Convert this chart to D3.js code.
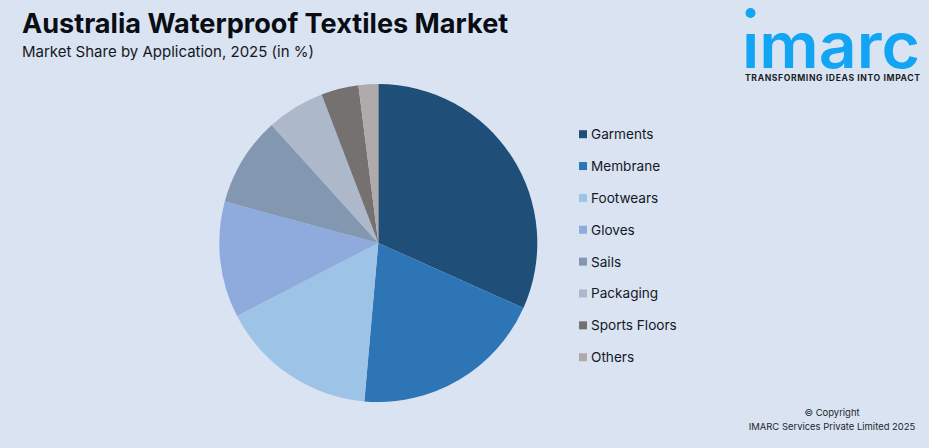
<!DOCTYPE html>
<html><head><meta charset="utf-8">
<script src="https://cdn.jsdelivr.net/npm/d3@7/dist/d3.min.js"></script>
<style>html,body{margin:0;padding:0;background:#d9e3f2}svg{display:block}text{font-family:Inter,"Noto Sans",sans-serif}</style>
</head><body><svg id="c" width="929" height="448"></svg>
<script>
const categories=["Garments","Membrane","Footwears","Gloves","Sails","Packaging","Sports Floors","Others"];
const shares=[31.7,19.7,16,11.8,9.1,5.9,3.8,2];
const colors=["#1f4e79","#2e75b6","#9dc3e6","#8faadc","#8497b0","#adb9ca","#767171","#afabab"];
const titleText="Australia Waterproof Textiles Market";
const subtitleText="Market Share by Application, 2025 (in %)";
const svg=d3.select("#c");
svg.append("rect").attr("width",929).attr("height",448).attr("fill","#d9e3f2");
svg.append("text").attr("x",22).attr("y",33).attr("font-size",27.1).attr("font-weight",700).attr("fill","#0a0d14").text(titleText);
svg.append("text").attr("x",22).attr("y",57).attr("font-size",15).attr("fill","#15181f").text(subtitleText);
const pie=d3.pie().sort(null).value(d=>d)(shares);
const arc=d3.arc().innerRadius(0).outerRadius(159);
svg.append("g").attr("transform","translate(378.3,243)").selectAll("path").data(pie).join("path")
 .attr("d",arc).attr("fill",(d,i)=>colors[i]);
const y=d3.scalePoint().domain(categories).range([134.2,357.2]);
const lg=svg.append("g").selectAll("g").data(categories).join("g").attr("transform",d=>`translate(0,${y(d)})`);
lg.append("rect").attr("x",579).attr("y",-4).attr("width",8).attr("height",8).attr("fill",(d,i)=>colors[i]);
lg.append("text").attr("x",591).attr("y",5).attr("font-size",13.6).attr("fill","#15181f").text(d=>d);
const logo=svg.append("g");
logo.append("circle").attr("cx",750.5).attr("cy",13).attr("r",5).attr("fill","#12a5f4");
logo.append("text").attr("x",742).attr("y",67.5).attr("font-size",63).attr("font-weight",600).attr("textLength",178).attr("lengthAdjust","spacingAndGlyphs").attr("fill","#12a5f4").text("ımarc");
logo.append("text").attr("x",745).attr("y",81).attr("font-size",8.6).attr("font-weight",700).attr("textLength",175).attr("fill","#1a1d24").text("TRANSFORMING IDEAS INTO IMPACT");
svg.append("text").attr("x",832).attr("y",416).attr("text-anchor","middle").attr("font-size",9.45).attr("fill","#23262d").text("© Copyright");
svg.append("text").attr("x",832).attr("y",430).attr("text-anchor","middle").attr("font-size",9.45).attr("fill","#23262d").text("IMARC Services Private Limited 2025");
</script></body></html>
